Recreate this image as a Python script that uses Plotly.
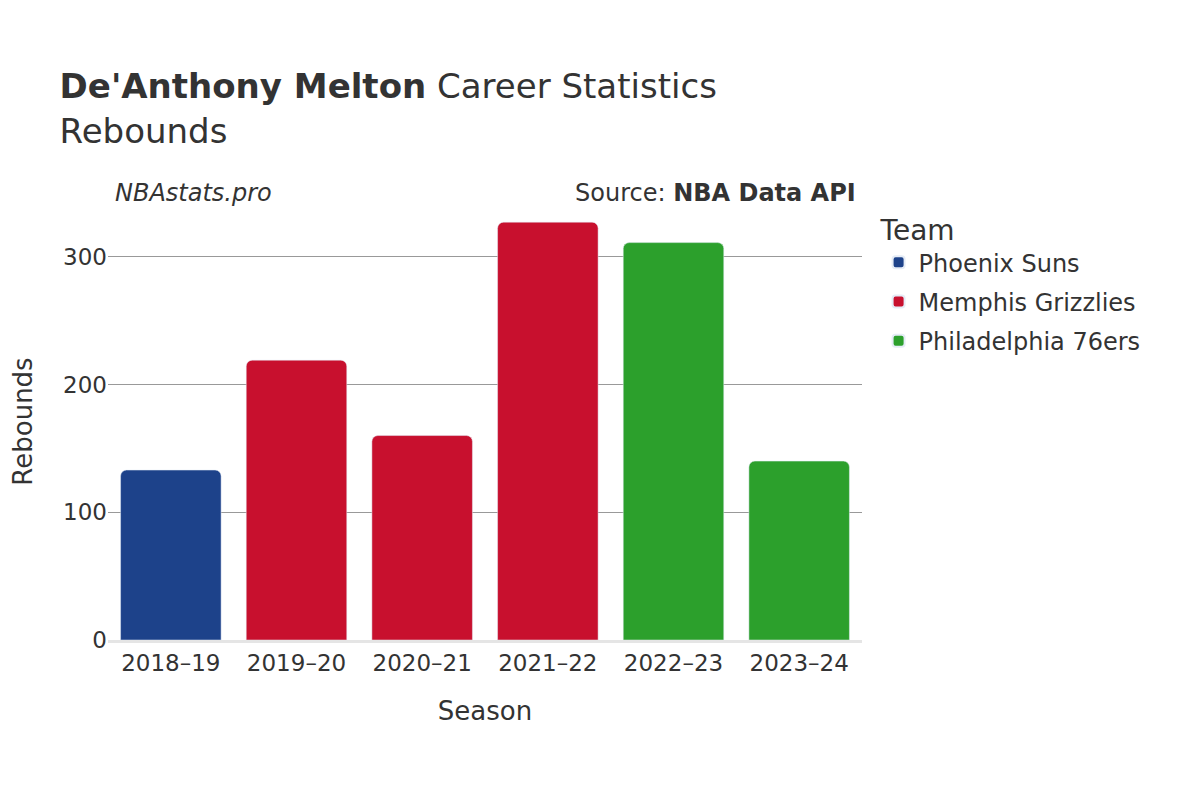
import plotly.graph_objects as go

seasons = ["2018–19", "2019–20", "2020–21", "2021–22", "2022–23", "2023–24"]
teams = ["Phoenix Suns", "Memphis Grizzlies", "Memphis Grizzlies", "Memphis Grizzlies", "Philadelphia 76ers", "Philadelphia 76ers"]
rebounds = [133, 219, 160, 327, 311, 140]
team_order = ["Phoenix Suns", "Memphis Grizzlies", "Philadelphia 76ers"]
colors = {"Phoenix Suns": "#1d428a", "Memphis Grizzlies": "#c8102e", "Philadelphia 76ers": "#2ca02c"}

fig = go.Figure()
for t in team_order:
    xs = [s for s, tt in zip(seasons, teams) if tt == t]
    ys = [v for v, tt in zip(rebounds, teams) if tt == t]
    fig.add_trace(go.Bar(x=xs, y=ys, name=t, legendgroup=t, marker_color=colors[t]))

fig.update_layout(
    width=1200, height=800, barmode="overlay", bargap=0.2, barcornerradius=6,
    font=dict(family="DejaVu Sans", size=20, color="#333"),
    plot_bgcolor="white", paper_bgcolor="white",
    margin=dict(l=100, r=346, t=195, b=168, autoexpand=False),
    title=dict(text="<b>De'Anthony Melton</b> Career Statistics<br>Rebounds", x=0.043, y=0.887, xanchor="left", yanchor="middle", font=dict(size=34)),
    legend=dict(title=dict(text="Team", font=dict(size=28)), x=1.022, y=0.998, yanchor="top", font=dict(size=24),
                itemsizing="constant", tracegroupgap=5),
    xaxis=dict(title=dict(text="Season", font=dict(size=26), standoff=28), categoryorder="array", categoryarray=seasons,
               showline=True, linecolor="#e5e5e5", linewidth=3, tickfont=dict(size=23)),
    yaxis=dict(title=dict(text="Rebounds", font=dict(size=26), standoff=45), gridcolor="#999", tickvals=[0, 100, 200, 300],
               range=[0, 342], zeroline=False, tickfont=dict(size=23)),
    annotations=[
        dict(text="<i>NBAstats.pro</i>", x=0.007, xref="paper", xanchor="left", y=1.059, yref="paper", showarrow=False, font=dict(size=24)),
        dict(text="Source: <b>NBA Data API</b>", x=0.995, xref="paper", xanchor="right", y=1.059, yref="paper", showarrow=False, font=dict(size=24)),
    ],
)
fig.write_html("out.html")
